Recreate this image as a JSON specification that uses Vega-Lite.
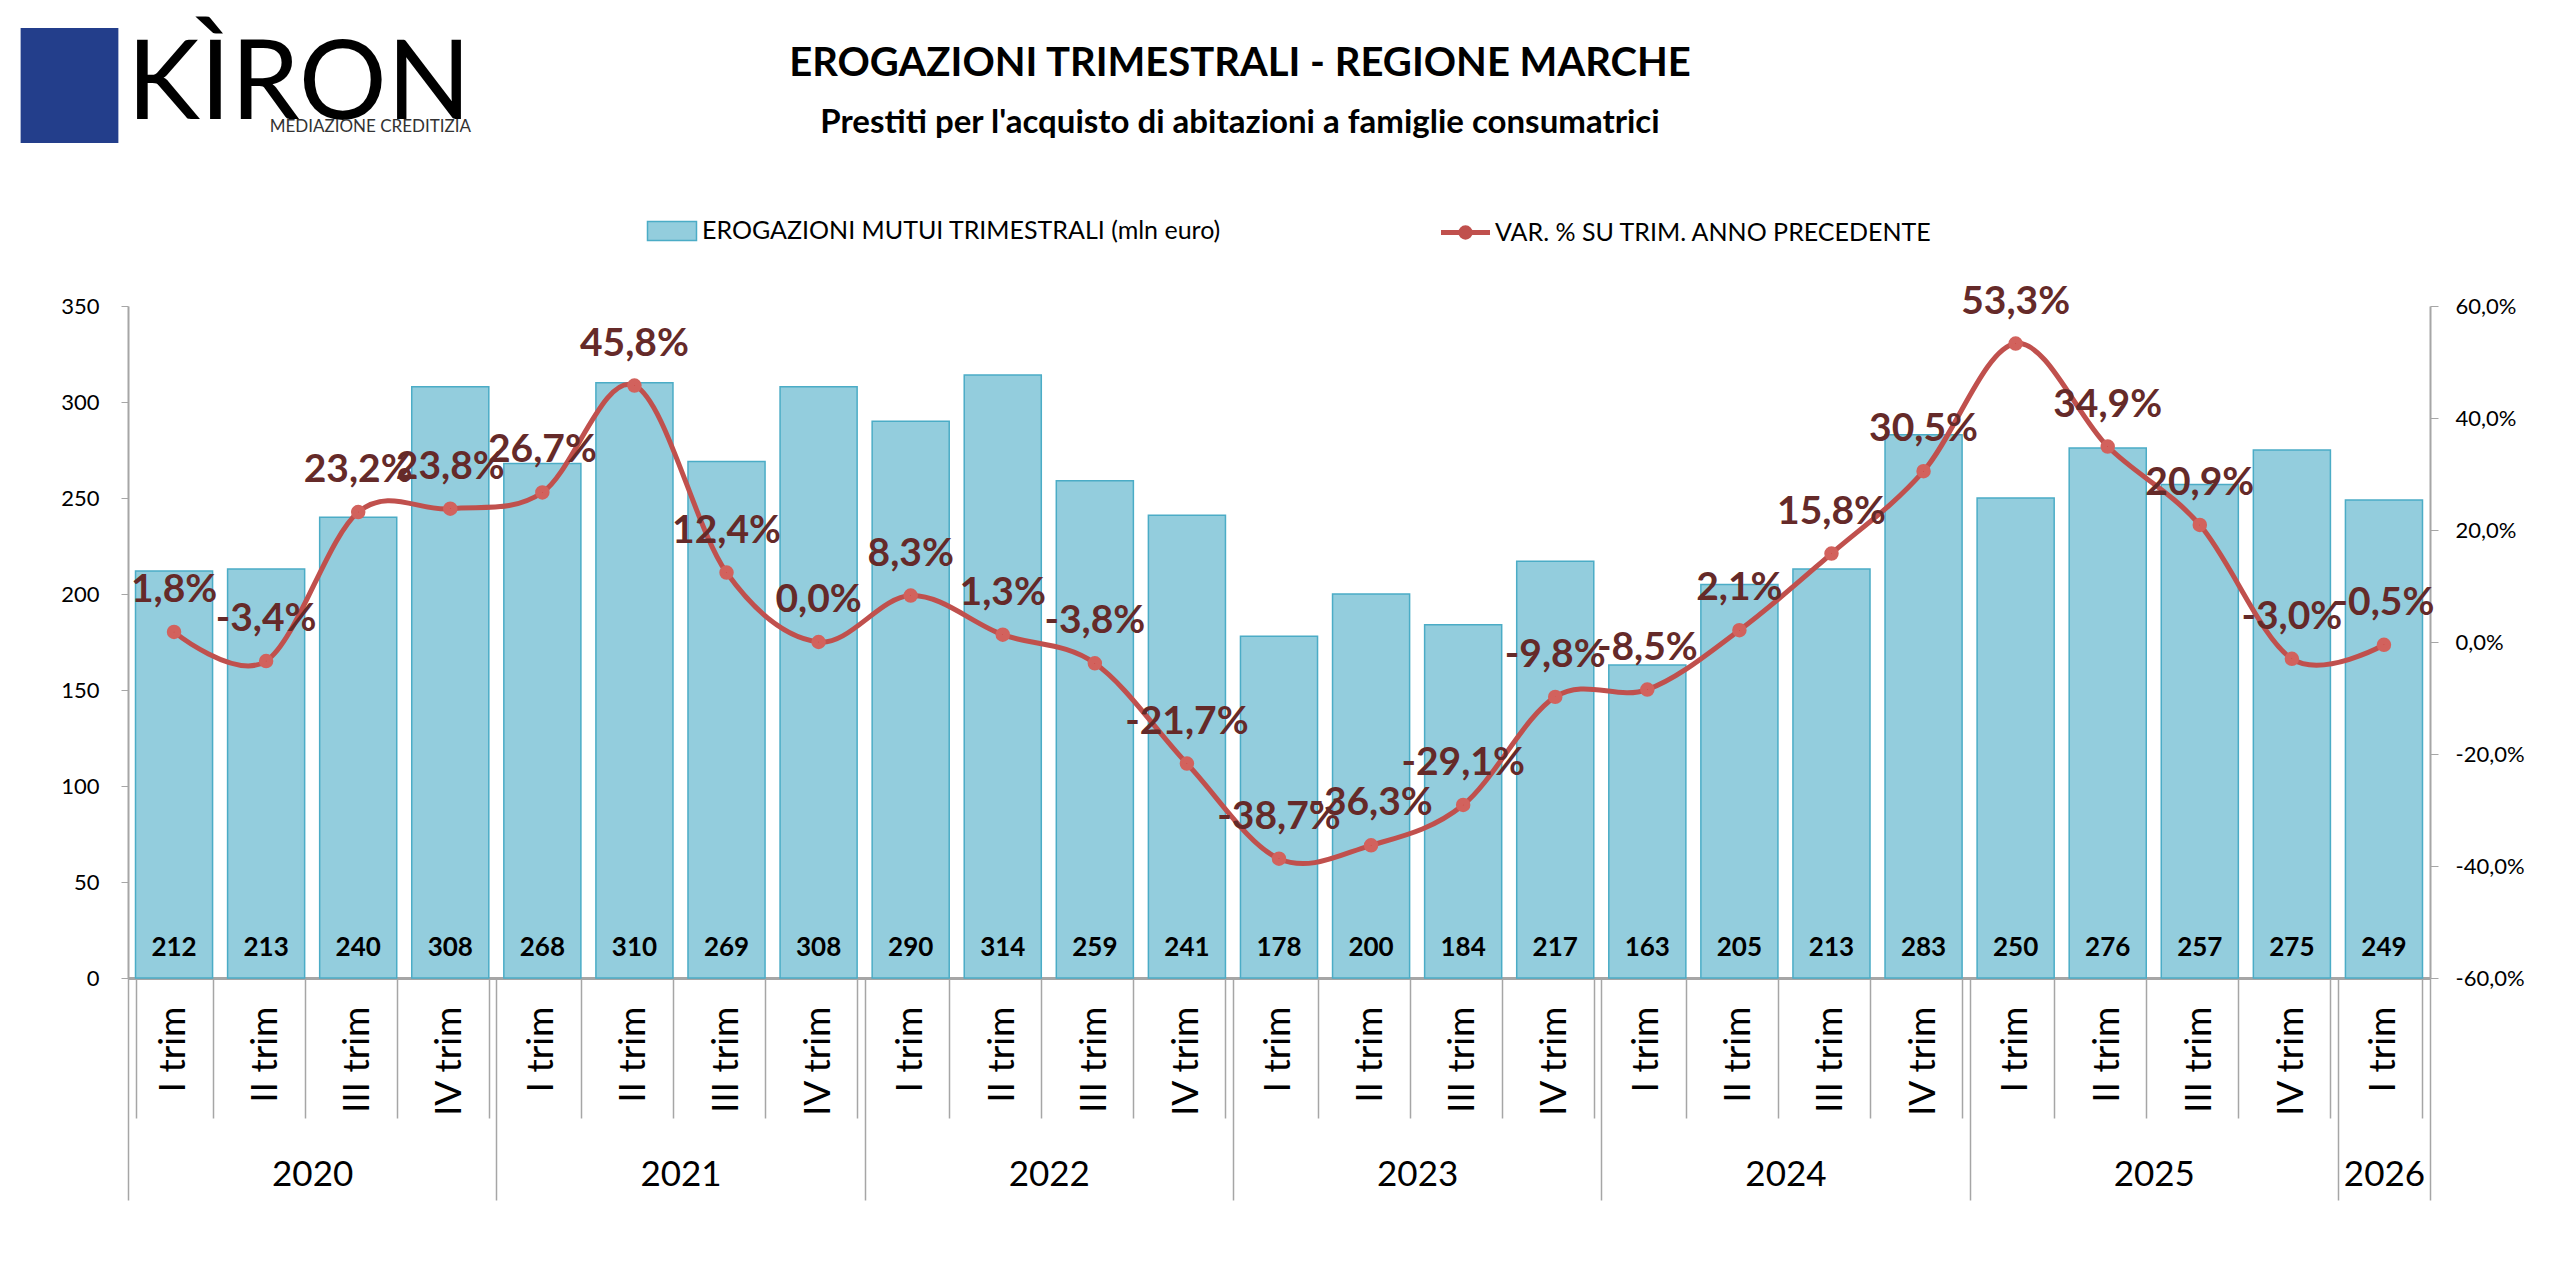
{
  "$schema": "https://vega.github.io/schema/vega-lite/v6.json",
  "width": 2302,
  "height": 672,
  "autosize": {"type": "none"},
  "padding": {"left": 128, "top": 306, "right": 130, "bottom": 307},
  "background": "white",
  "title": {
    "text": "EROGAZIONI TRIMESTRALI - REGIONE MARCHE",
    "subtitle": "Prestiti per l'acquisto di abitazioni a famiglie consumatrici",
    "fontSize": 40,
    "fontWeight": "bold",
    "color": "black",
    "subtitleFontSize": 33,
    "subtitleFontWeight": "bold",
    "subtitleColor": "black",
    "subtitlePadding": 23,
    "anchor": "middle",
    "dx": -39,
    "offset": -112
  },
  "datasets": {
    "trimestri": [
      {"trimestre": "2020 I trim", "erogazioni": 212, "var": 0.018},
      {"trimestre": "2020 II trim", "erogazioni": 213, "var": -0.034},
      {"trimestre": "2020 III trim", "erogazioni": 240, "var": 0.232},
      {"trimestre": "2020 IV trim", "erogazioni": 308, "var": 0.238},
      {"trimestre": "2021 I trim", "erogazioni": 268, "var": 0.267},
      {"trimestre": "2021 II trim", "erogazioni": 310, "var": 0.458},
      {"trimestre": "2021 III trim", "erogazioni": 269, "var": 0.124},
      {"trimestre": "2021 IV trim", "erogazioni": 308, "var": 0.0},
      {"trimestre": "2022 I trim", "erogazioni": 290, "var": 0.083},
      {"trimestre": "2022 II trim", "erogazioni": 314, "var": 0.013},
      {"trimestre": "2022 III trim", "erogazioni": 259, "var": -0.038},
      {"trimestre": "2022 IV trim", "erogazioni": 241, "var": -0.217},
      {"trimestre": "2023 I trim", "erogazioni": 178, "var": -0.387},
      {"trimestre": "2023 II trim", "erogazioni": 200, "var": -0.363},
      {"trimestre": "2023 III trim", "erogazioni": 184, "var": -0.291},
      {"trimestre": "2023 IV trim", "erogazioni": 217, "var": -0.098},
      {"trimestre": "2024 I trim", "erogazioni": 163, "var": -0.085},
      {"trimestre": "2024 II trim", "erogazioni": 205, "var": 0.021},
      {"trimestre": "2024 III trim", "erogazioni": 213, "var": 0.158},
      {"trimestre": "2024 IV trim", "erogazioni": 283, "var": 0.305},
      {"trimestre": "2025 I trim", "erogazioni": 250, "var": 0.533},
      {"trimestre": "2025 II trim", "erogazioni": 276, "var": 0.349},
      {"trimestre": "2025 III trim", "erogazioni": 257, "var": 0.209},
      {"trimestre": "2025 IV trim", "erogazioni": 275, "var": -0.03},
      {"trimestre": "2026 I trim", "erogazioni": 249, "var": -0.005}
    ],
    "anni": [
      {"anno": "2020", "centro": 2},
      {"anno": "2021", "centro": 6},
      {"anno": "2022", "centro": 10},
      {"anno": "2023", "centro": 14},
      {"anno": "2024", "centro": 18},
      {"anno": "2025", "centro": 22},
      {"anno": "2026", "centro": 24.5}
    ]
  },
  "layer": [
    {
      "data": {"name": "trimestri"},
      "encoding": {
        "x": {
          "field": "trimestre",
          "type": "nominal",
          "sort": null,
          "scale": {"paddingInner": 0.163, "paddingOuter": 0.0815},
          "axis": {
            "orient": "bottom",
            "title": null,
            "ticks": false,
            "labelExpr": "slice(datum.value, 5)",
            "labelAngle": 270,
            "labelFontSize": 37,
            "labelPadding": 28,
            "domainColor": "#A6A6A6",
            "domainWidth": 3
          }
        }
      },
      "layer": [
        {
          "mark": {"type": "bar", "stroke": "#4BACC6", "strokeWidth": 1.5},
          "encoding": {
            "y": {
              "field": "erogazioni",
              "type": "quantitative",
              "scale": {"domain": [0, 350], "nice": false},
              "axis": {
                "orient": "left",
                "title": null,
                "values": [0, 50, 100, 150, 200, 250, 300, 350],
                "labelFontSize": 22,
                "labelPadding": 22,
                "tickSize": 7,
                "domainWidth": 2
              }
            },
            "fill": {
              "datum": "EROGAZIONI MUTUI TRIMESTRALI (mln euro)",
              "scale": {"range": ["#93CDDD"]},
              "legend": {
                "orient": "none",
                "legendX": 524,
                "legendY": -95,
                "title": null,
                "padding": 0,
                "symbolType": "M-1.3,-0.5H1.3V0.5H-1.3Z",
                "symbolSize": 1421,
                "symbolStrokeColor": "#4BACC6",
                "symbolStrokeWidth": 1.5,
                "labelFontSize": 25,
                "labelColor": "black",
                "labelLimit": 0,
                "labelOffset": 10
              }
            }
          }
        },
        {
          "mark": {"type": "text", "fontSize": 26, "fontWeight": "bold", "color": "black", "dy": -30},
          "encoding": {
            "y": {"datum": 0},
            "text": {"field": "erogazioni", "type": "quantitative"}
          }
        }
      ]
    },
    {
      "data": {"name": "trimestri"},
      "encoding": {
        "x": {
          "field": "trimestre",
          "type": "nominal",
          "sort": null,
          "scale": {"paddingInner": 0.163, "paddingOuter": 0.0815},
          "axis": {
            "orient": "bottom",
            "title": null,
            "labels": false,
            "domain": false,
            "tickBand": "extent",
            "tickSize": 140,
            "tickColor": "#A6A6A6",
            "tickWidth": 1.5
          }
        },
        "y": {
          "field": "var",
          "type": "quantitative",
          "scale": {"domain": [-0.6, 0.6], "nice": false},
          "axis": {
            "orient": "right",
            "title": null,
            "values": [-0.6, -0.4, -0.2, 0, 0.2, 0.4, 0.6],
            "format": ".1%",
            "labelFontSize": 22,
            "labelPadding": 17,
            "tickSize": 8,
            "domainWidth": 2
          }
        }
      },
      "layer": [
        {
          "mark": {"type": "line", "interpolate": "cardinal", "strokeWidth": 5},
          "encoding": {
            "stroke": {
              "datum": "VAR. % SU TRIM. ANNO PRECEDENTE",
              "scale": {"range": ["#C0504D"]},
              "legend": {
                "orient": "none",
                "legendX": 1316,
                "legendY": -95,
                "title": null,
                "padding": 0,
                "symbolType": "M-1.3,0H1.3M-0.25,0A0.25,0.25,0,1,1,0.25,0A0.25,0.25,0,1,1,-0.25,0",
                "symbolSize": 1421,
                "symbolStrokeWidth": 5,
                "symbolFillColor": "#C00000",
                "labelFontSize": 25,
                "labelColor": "black",
                "labelLimit": 0,
                "labelOffset": 8,
                "encode": {"symbols": {"update": {"fill": {"value": "#C00000"}}}}
              }
            }
          }
        },
        {
          "mark": {"type": "point", "filled": true, "fill": "#C00000", "stroke": "#D2625D", "strokeWidth": 7, "size": 56, "opacity": 1}
        },
        {
          "mark": {"type": "text", "fontSize": 39, "fontWeight": "bold", "color": "#652A29", "dy": -42},
          "encoding": {
            "text": {"field": "var", "type": "quantitative", "format": ".1%"}
          }
        }
      ]
    },
    {
      "data": {"name": "anni"},
      "mark": {"type": "point", "filled": true, "opacity": 0},
      "encoding": {
        "x": {
          "field": "centro",
          "type": "quantitative",
          "scale": {"domain": [0, 25], "nice": false, "zero": false},
          "axis": {
            "orient": "bottom",
            "title": null,
            "values": [0, 2, 4, 6, 8, 10, 12, 14, 16, 18, 20, 22, 24, 24.5, 25],
            "domain": false,
            "tickSize": 222,
            "tickColor": "#A6A6A6",
            "tickWidth": 1.5,
            "tickOpacity": {"condition": {"test": "datum.value % 4 == 0 || datum.value == 25", "value": 1}, "value": 0},
            "labelExpr": "datum.value == 24.5 ? '2026' : (datum.value % 4 == 2 ? '' + (2020 + (datum.value - 2) / 4) : '')",
            "labelFontSize": 35,
            "labelPadding": -43,
            "labelFlush": false,
            "labelOverlap": false,
            "labelBound": false
          }
        },
        "color": {
          "datum": "KÌRON",
          "scale": {"range": ["#233E8B"]},
          "legend": {
            "orient": "none",
            "legendX": -116,
            "legendY": -278,
            "title": "MEDIAZIONE CREDITIZIA",
            "titleOrient": "bottom",
            "titleAnchor": "end",
            "titleFontSize": 17,
            "titleFontWeight": "normal",
            "titleColor": "#333333",
            "titlePadding": -24,
            "titleLimit": 0,
            "padding": 0,
            "symbolType": "M-0.85,-1H0.85V1H-0.85Z",
            "symbolSize": 13225,
            "symbolOpacity": 1,
            "symbolFillColor": "#233E8B",
            "symbolStrokeWidth": 0,
            "labelFontSize": 110,
            "labelColor": "black",
            "labelLimit": 0,
            "labelOffset": 0
          }
        }
      }
    }
  ],
  "resolve": {"scale": {"x": "independent", "y": "independent"}},
  "config": {
    "font": "Lato",
    "view": {"stroke": null},
    "axis": {"grid": false, "domainColor": "#A6A6A6", "tickColor": "#A6A6A6", "labelColor": "black"},
    "locale": {
      "number": {"decimal": ",", "thousands": ".", "grouping": [3], "currency": ["€", ""], "minus": "-"}
    }
  }
}
